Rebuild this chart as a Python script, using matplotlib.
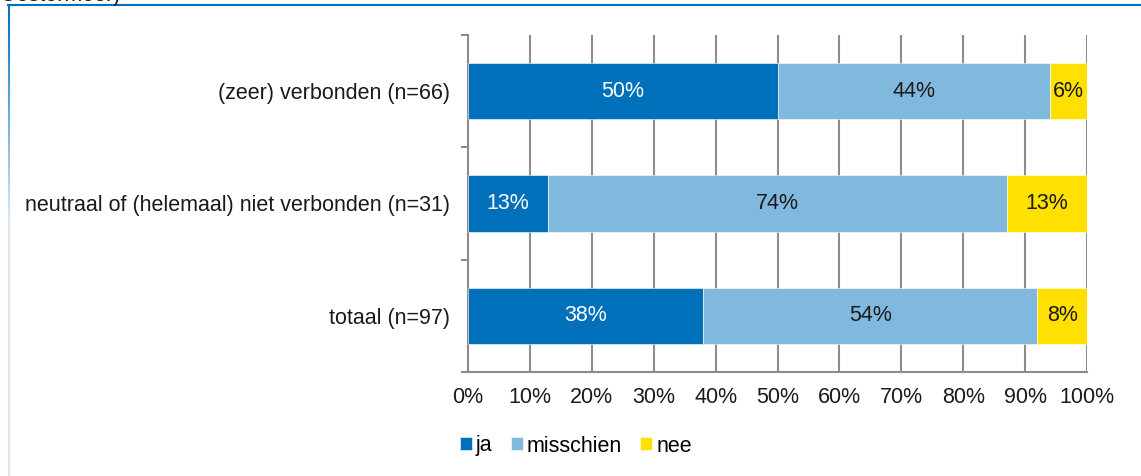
import matplotlib
matplotlib.use("Agg")
import matplotlib.pyplot as plt
import numpy as np
from matplotlib.collections import LineCollection
from matplotlib.lines import Line2D

plt.rcParams['font.family'] = ['Liberation Sans', 'DejaVu Sans']

categories = ["(zeer) verbonden (n=66)",
              "neutraal of (helemaal) niet verbonden (n=31)",
              "totaal (n=97)"]
series_names = ["ja", "misschien", "nee"]
ja = [50, 13, 38]
misschien = [44, 74, 54]
nee = [6, 13, 8]
x_ticks = [0, 10, 20, 30, 40, 50, 60, 70, 80, 90, 100]
x_tick_labels = [f"{v}%" for v in x_ticks]

colors = ["#0070BA", "#80B8DE", "#FFE000"]
label_colors = ["white", "#1a1a1a", "#1a1a1a"]
grid_color = "#8C8C8C"
FS = 15.5

fig = plt.figure(figsize=(11.41, 4.76), dpi=100)
ax = fig.add_axes([468/1141, 1-372/476, (1087-468)/1141, (372-35)/476])

y = np.arange(len(categories))
left = np.zeros(len(categories))
for name, vals, c, lc in zip(series_names, [ja, misschien, nee], colors, label_colors):
    vals = np.array(vals, dtype=float)
    ax.barh(y, vals, left=left, height=0.5, color=c, label=name,
            edgecolor="white", linewidth=0.4, zorder=3)
    for yi, l, v in zip(y, left, vals):
        ax.text(l + v/2, yi, f"{int(v)}%", ha="center", va="center",
                color=lc, fontsize=FS, zorder=4)
    left += vals

ax.set_xlim(0, 100)
ax.set_ylim(2.5, -0.5)
ax.set_xticks(x_ticks)
ax.set_xticklabels(x_tick_labels, fontsize=FS)
ax.tick_params(axis="x", length=0, pad=11, colors="#1a1a1a")
ax.xaxis.grid(True, color=grid_color, linewidth=1.5, zorder=0)

ax.set_yticks([-0.5, 0.5, 1.5, 2.5])
ax.set_yticklabels([])
ax.tick_params(axis="y", which="major", length=5, width=1.5, color=grid_color)
ax.set_yticks(y, minor=True)
ax.set_yticklabels(categories, minor=True, fontsize=FS)
ax.tick_params(axis="y", which="minor", length=0, pad=13, colors="#1a1a1a")

for s in ["top", "right"]:
    ax.spines[s].set_visible(False)
for s in ["left", "bottom"]:
    ax.spines[s].set_color(grid_color)
    ax.spines[s].set_linewidth(1.5)

fig.legend(loc="center", bbox_to_anchor=(576/1141, 1-446/476), ncol=3,
           frameon=False, fontsize=FS, handlelength=0.55, handleheight=0.55,
           handletextpad=0.2, columnspacing=0.85)

# frame: top and fading left border
fig.add_artist(Line2D([8/1141, 1], [1-5/476, 1-5/476], color="#0070C0",
                      linewidth=1.5, transform=fig.transFigure))
n = 60
ys = np.linspace(1-5/476, 0, n+1)
segs = [[(9/1141, ys[i]), (9/1141, ys[i+1])] for i in range(n)]
base = np.array([0.0, 0.44, 0.75])
cols = []
for i in range(n):
    t = min(1.0, i / (n*0.45))
    c = base*(1-t) + np.array([0.86, 0.90, 0.97])*t
    cols.append(tuple(c))
fig.add_artist(LineCollection(segs, colors=cols, linewidths=1.5,
                              transform=fig.transFigure))

fig.text(0.0, 1-1.5/476, "Oostermoer)", fontsize=FS, ha="left", va="baseline",
         color="#1a1a1a")

fig.savefig("out.png", dpi=100)
